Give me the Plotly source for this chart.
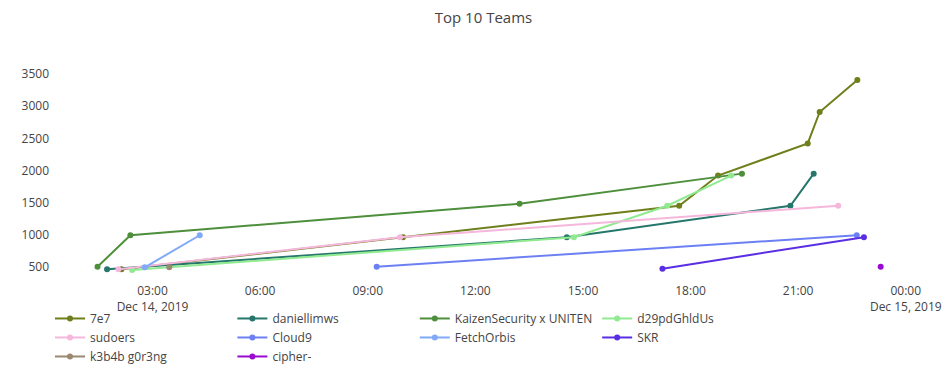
import plotly.graph_objects as go

teams = ["7e7", "daniellimws", "KaizenSecurity x UNITEN", "d29pdGhldUs", "sudoers",
         "Cloud9", "FetchOrbis", "SKR", "k3b4b g0r3ng", "cipher-"]
colors = ["#6f7f1b", "#25776b", "#4e8f3b", "#90ea8f", "#f5b7dc",
          "#6c80f4", "#80aaf7", "#5a2ee3", "#9b8870", "#9a0ad0"]

times_7e7 = ["2019-12-14 02:08", "2019-12-14 09:59", "2019-12-14 17:41", "2019-12-14 18:46",
             "2019-12-14 21:16", "2019-12-14 21:36", "2019-12-14 22:39"]
scores_7e7 = [460, 960, 1450, 1920, 2420, 2910, 3410]

times_daniellimws = ["2019-12-14 01:44", "2019-12-14 14:33", "2019-12-14 20:47", "2019-12-14 21:26"]
scores_daniellimws = [460, 960, 1450, 1950]

times_kaizen = ["2019-12-14 01:28", "2019-12-14 02:23", "2019-12-14 13:14", "2019-12-14 19:26"]
scores_kaizen = [500, 990, 1480, 1950]

times_d29 = ["2019-12-14 02:26", "2019-12-14 14:45", "2019-12-14 17:21", "2019-12-14 19:08"]
scores_d29 = [450, 960, 1450, 1920]

times_sudoers = ["2019-12-14 02:03", "2019-12-14 09:54", "2019-12-14 22:07"]
scores_sudoers = [460, 960, 1450]

times_cloud9 = ["2019-12-14 09:15", "2019-12-14 22:38"]
scores_cloud9 = [500, 990]

times_fetch = ["2019-12-14 02:47", "2019-12-14 04:19"]
scores_fetch = [490, 990]

times_skr = ["2019-12-14 17:13", "2019-12-14 22:50"]
scores_skr = [470, 960]

times_k3b4b = ["2019-12-14 03:28"]
scores_k3b4b = [490]

times_cipher = ["2019-12-14 23:18"]
scores_cipher = [500]

x_range = ["2019-12-14 00:08:32", "2019-12-15 00:35:31"]
y_range = [262, 3720]

all_times = [times_7e7, times_daniellimws, times_kaizen, times_d29, times_sudoers,
             times_cloud9, times_fetch, times_skr, times_k3b4b, times_cipher]
all_scores = [scores_7e7, scores_daniellimws, scores_kaizen, scores_d29, scores_sudoers,
              scores_cloud9, scores_fetch, scores_skr, scores_k3b4b, scores_cipher]

fig = go.Figure()
for name, color, xs, ys in zip(teams, colors, all_times, all_scores):
    fig.add_trace(go.Scatter(
        x=xs, y=ys, name=name, mode="lines+markers",
        line=dict(color=color, width=2),
        marker=dict(color=color, size=6),
    ))

fig.update_layout(
    template="none",
    width=951, height=380,
    title=dict(text="Top 10 Teams", x=0.5, xref="container", xanchor="center",
               y=0.987, yref="container", yanchor="top",
               font=dict(size=15, color="#444")),
    font=dict(family="Open Sans, verdana, arial, sans-serif", size=12, color="#444"),
    paper_bgcolor="white",
    plot_bgcolor="white",
    hovermode="closest",
    margin=dict(l=42, r=32, t=52, b=106),
    xaxis=dict(showgrid=False, zeroline=False, showline=False, ticks="",
               range=x_range, dtick=3 * 3600000, showspikes=True),
    yaxis=dict(showgrid=False, zeroline=False, showline=False, ticks="",
               range=y_range, dtick=500, showspikes=True),
    legend=dict(orientation="h", x=0, y=-0.099, xanchor="left", yanchor="top",
                bgcolor="rgba(0,0,0,0)", font=dict(size=12)),
)

fig.write_html("out.html")
